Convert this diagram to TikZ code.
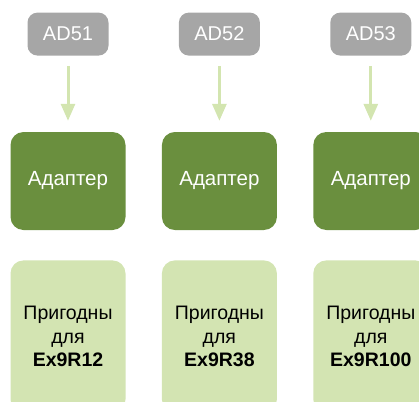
\documentclass[tikz,border=0pt]{standalone}
\usepackage{fontspec}
\setmainfont{Liberation Sans}
\usetikzlibrary{arrows.meta,positioning}
\definecolor{adGray}{HTML}{A6A6A6}
\definecolor{adDark}{HTML}{6A8F3E}
\definecolor{adLight}{HTML}{D3E4B2}
\definecolor{adArrow}{HTML}{D3E5B0}
\tikzset{
  adnode/.style={align=center, inner sep=0pt},
  model/.style={adnode, fill=adGray, text=white, rounded corners=10pt,
    minimum width=81pt, minimum height=43pt, font=\fontsize{20}{24}\selectfont},
  adapter/.style={adnode, fill=adDark, text=white, rounded corners=13pt,
    minimum width=115pt, minimum height=98pt, font=\fontsize{20.5}{24}\selectfont},
  usage/.style={adnode, fill=adLight, text=black, rounded corners=13pt,
    minimum width=115pt, minimum height=152pt, font=\fontsize{19.5}{23.5}\selectfont},
  feed/.style={-{Triangle[length=17pt,width=14pt]}, line width=3pt, adArrow,
    shorten <=10pt, shorten >=11pt}
}
\begin{document}
\begin{tikzpicture}[x=1pt, y=-1pt]
  \useasboundingbox (0,0) rectangle (419,401);
  \clip (0,0) rectangle (419,401);
  \node[adapter] (a1) at (68,181) {Адаптер};
  \node[adapter, right=36pt of a1] (a2) {Адаптер};
  \node[adapter, right=36pt of a2] (a3) {Адаптер};
  \node[model, above=76pt of a1] (m1) {AD51};
  \node[model, above=76pt of a2] (m2) {AD52};
  \node[model, above=76pt of a3] (m3) {AD53};
  \node[usage, below=30pt of a1] (u1) {Пригодны\\для\\\textbf{Ex9R12}};
  \node[usage, below=30pt of a2] (u2) {Пригодны\\для\\\textbf{Ex9R38}};
  \node[usage, below=30pt of a3] (u3) {Пригодны\\для\\\textbf{Ex9R100}};
  \draw[feed] (m1) -- (a1);
  \draw[feed] (m2) -- (a2);
  \draw[feed] (m3) -- (a3);
\end{tikzpicture}
\end{document}
